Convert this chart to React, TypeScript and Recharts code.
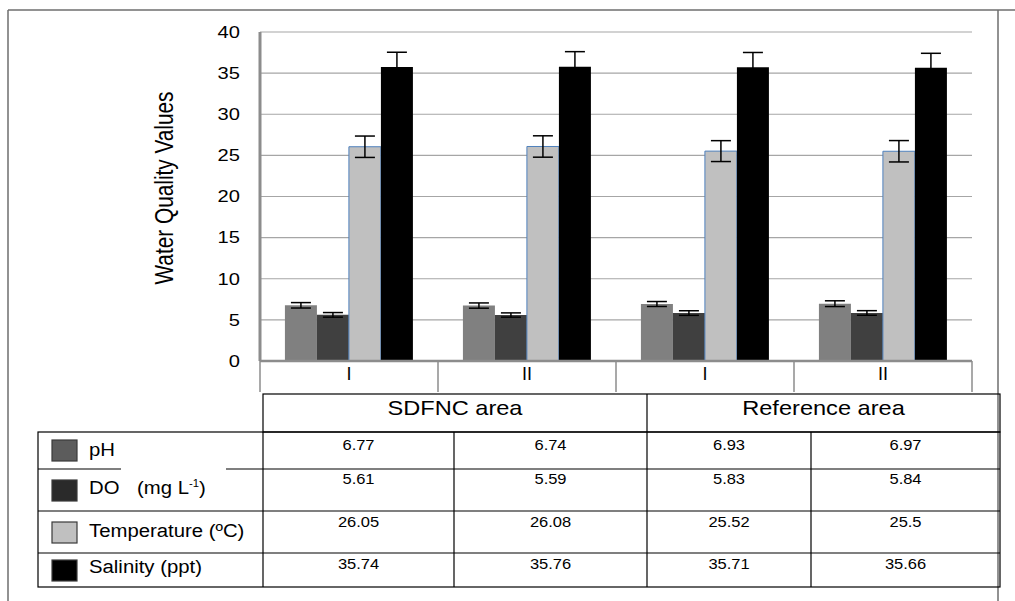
import { BarChart, Bar, XAxis, YAxis, CartesianGrid, ErrorBar } from 'recharts';

// sampling sites (two per area) and the areas shown in the table header
const sites = ['I', 'II', 'I', 'II'];
const areaNames = ['SDFNC area', 'Reference area'];

const phValues = [6.77, 6.74, 6.93, 6.97];
const doValues = [5.61, 5.59, 5.83, 5.84];
const tempValues = [26.05, 26.08, 25.52, 25.5];
const salinityValues = [35.74, 35.76, 35.71, 35.66];

// error bar half-widths
const phErr = [0.33, 0.32, 0.3, 0.35];
const doErr = [0.28, 0.26, 0.28, 0.28];
const tempErr = [1.3, 1.3, 1.27, 1.3];
const salinityErr = [1.8, 1.85, 1.8, 1.75];

const yTicks = [0, 5, 10, 15, 20, 25, 30, 35, 40];

const series = [
  { key: 'ph', label: 'pH', values: phValues, err: phErr, fill: '#808080', swatch: '#5c5c5c', stroke: 'none' },
  { key: 'do', label: 'DO', values: doValues, err: doErr, fill: '#404040', swatch: '#2a2a2a', stroke: 'none' },
  { key: 'temp', label: 'Temperature (ºC)', values: tempValues, err: tempErr, fill: '#c0c0c0', swatch: '#c0c0c0', stroke: '#4f81bd' },
  { key: 'sal', label: 'Salinity (ppt)', values: salinityValues, err: salinityErr, fill: '#000000', swatch: '#000000', stroke: 'none' },
];

const data = sites.map((site, i) => {
  const row: Record<string, string | number> = { site };
  series.forEach(s => {
    row[s.key] = s.values[i];
    row[s.key + 'Err'] = s.err[i];
  });
  return row;
});

const W = 1015;
const H = 601;
const PLOT_LEFT = 260;
const PLOT_RIGHT = 972;
const PLOT_TOP = 32;
const PLOT_BOTTOM = 361;
const BAND = (PLOT_RIGHT - PLOT_LEFT) / sites.length;

const FONT = '"Liberation Sans", Arial, sans-serif';

// table layout
const colEdges = [263, 454, 647, 811, 1000];
const rowEdges = [432, 469, 511, 553, 587];
const headerTop = 394;
const valueBase = [450, 484, 527, 569];
const labelBase = [456, 494, 537, 573];
const swatchTop = [440, 480, 522, 560];

// the source picture is stretched sideways, so text gets a horizontal scale
const Wide = ({ x, y, sx, size, anchor = 'start', children, baseline }: any) => (
  <text
    transform={`translate(${x} ${y}) scale(${sx} 1)`}
    textAnchor={anchor}
    fontSize={size}
    fontFamily={FONT}
    fill="#000"
    dominantBaseline={baseline}
  >
    {children}
  </text>
);

const SiteTick = (props: any) => {
  const { x, index, payload } = props;
  const half = BAND / 2;
  return (
    <g>
      <line x1={x - half} x2={x - half} y1={PLOT_BOTTOM} y2={PLOT_BOTTOM + 31} stroke="#8c8c8c" strokeWidth={1.5} />
      {index === sites.length - 1 && (
        <line x1={x + half} x2={x + half} y1={PLOT_BOTTOM} y2={PLOT_BOTTOM + 31} stroke="#8c8c8c" strokeWidth={1.5} />
      )}
      <Wide x={x} y={PLOT_BOTTOM + 19} sx={1} size={18} anchor="middle">{payload.value}</Wide>
    </g>
  );
};

const ValueTick = (props: any) => {
  const { x, y, payload } = props;
  return (
    <Wide x={x} y={y} sx={1.22} size={16.5} anchor="end" baseline="central">{payload.value}</Wide>
  );
};

export default function App() {
  return (
    <div style={{ position: 'absolute', left: 0, top: 0, width: W, height: H, background: '#fff' }}>
      <BarChart
        width={W}
        height={H}
        data={data}
        margin={{ top: PLOT_TOP, right: W - PLOT_RIGHT, left: PLOT_LEFT - 80, bottom: H - PLOT_BOTTOM - 30 }}
        barCategoryGap="14%"
        barGap={0}
      >
        <CartesianGrid horizontal vertical={false} stroke="#a6a6a6" strokeWidth={1.2} />
        <XAxis
          dataKey="site"
          height={30}
          tickLine={false}
          axisLine={{ stroke: '#8c8c8c', strokeWidth: 2.5 }}
          tick={<SiteTick />}
          interval={0}
        />
        <YAxis
          width={80}
          domain={[0, 40]}
          ticks={yTicks}
          tickLine={false}
          tickMargin={14}
          axisLine={{ stroke: '#8c8c8c', strokeWidth: 3 }}
          tick={<ValueTick />}
        />
        {series.map(s => (
          <Bar key={s.key} dataKey={s.key} fill={s.fill} stroke={s.stroke} strokeWidth={1} isAnimationActive={false}>
            <ErrorBar dataKey={s.key + 'Err'} width={10} stroke="#000" strokeWidth={1.5} isAnimationActive={false} />
          </Bar>
        ))}
      </BarChart>

      <svg width={W} height={H} style={{ position: 'absolute', left: 0, top: 0, pointerEvents: 'none' }}>
        {/* outer frame */}
        <line x1={8} x2={W} y1={10} y2={10} stroke="#6e6e6e" strokeWidth={1.5} />
        <line x1={8} x2={8} y1={10} y2={H} stroke="#6e6e6e" strokeWidth={1.5} />
        <line x1={998} x2={998} y1={10} y2={H} stroke="#6e6e6e" strokeWidth={1.5} />

        <text
          transform="translate(173 188) rotate(-90) scale(0.8 1)"
          textAnchor="middle"
          fontSize={26}
          fontFamily={FONT}
          fill="#000"
        >
          Water Quality Values
        </text>

        {/* table */}
        <g stroke="#000" strokeWidth={1.2} fill="none">
          <rect x={colEdges[0]} y={headerTop} width={colEdges[4] - colEdges[0]} height={rowEdges[0] - headerTop} />
          <line x1={colEdges[2]} x2={colEdges[2]} y1={headerTop} y2={rowEdges[4]} />
          <rect x={38} y={rowEdges[0]} width={colEdges[4] - 38} height={rowEdges[4] - rowEdges[0]} />
          {rowEdges.slice(1, 4).map(y => (
            <line key={y} x1={38} x2={colEdges[4]} y1={y} y2={y} />
          ))}
          {[colEdges[0], colEdges[1], colEdges[3]].map(x => (
            <line key={x} x1={x} x2={x} y1={rowEdges[0]} y2={rowEdges[4]} />
          ))}
        </g>
        {/* white patch behind the DO label, as in the source */}
        <rect x={121} y={rowEdges[1] - 1.5} width={105} height={3} fill="#fff" />

        {areaNames.map((name, i) => (
          <Wide key={name} x={(colEdges[i * 2] + colEdges[i * 2 + 2]) / 2} y={415} sx={1.18} size={20} anchor="middle">
            {name}
          </Wide>
        ))}
        {series.map((s, r) =>
          s.values.map((v, c) => (
            <Wide key={s.key + c} x={(colEdges[c] + colEdges[c + 1]) / 2} y={valueBase[r]} sx={1.1} size={15} anchor="middle">
              {String(v)}
            </Wide>
          ))
        )}
        {series.map((s, r) => (
          <g key={s.key}>
            <rect x={52} y={swatchTop[r]} width={25} height={21} fill={s.swatch} stroke="#3a3a3a" strokeWidth={1.2} />
            {s.key === 'do' ? (
              <>
                <Wide x={89} y={labelBase[r]} sx={1.13} size={18}>DO</Wide>
                <Wide x={137} y={labelBase[r]} sx={1.13} size={18}>
                  (mg L<tspan dy={-7} fontSize={10}>-1</tspan>
                  <tspan dy={7}>)</tspan>
                </Wide>
              </>
            ) : (
              <Wide x={89} y={labelBase[r]} sx={1.13} size={18}>{s.label}</Wide>
            )}
          </g>
        ))}
      </svg>
    </div>
  );
}
